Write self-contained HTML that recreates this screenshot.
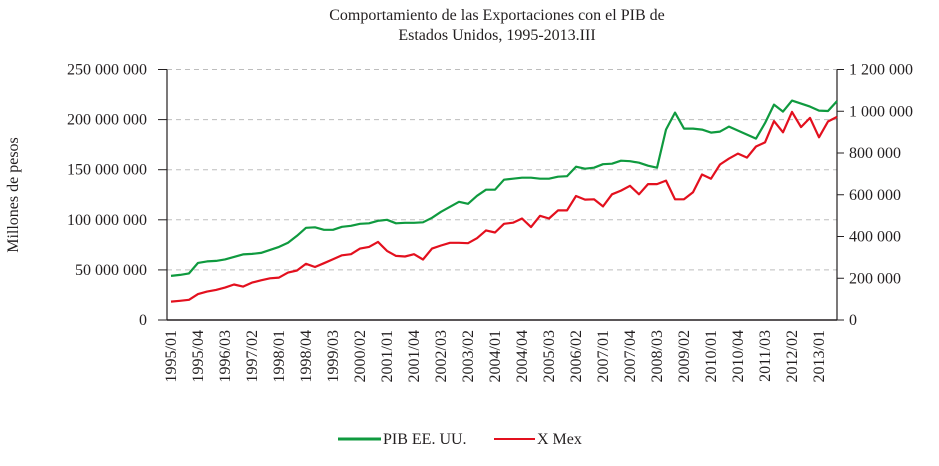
<!DOCTYPE html>
<html><head><meta charset="utf-8"><style>
body{margin:0;background:#fff;}
svg text{font-family:"Liberation Serif",serif;fill:#231f20;}
</style></head><body>
<svg id="chart" width="939" height="461" viewBox="0 0 939 461" xmlns="http://www.w3.org/2000/svg">
<text x="497" y="20" text-anchor="middle" font-size="16">Comportamiento de las Exportaciones con el PIB de</text>
<text x="497" y="40" text-anchor="middle" font-size="16">Estados Unidos, 1995-2013.III</text>
<text transform="translate(18,195) rotate(-90)" text-anchor="middle" font-size="16">Millones de pesos</text>
<g id="grid"></g><g id="axes"></g><g id="lines"></g>
<g>
<line x1="338" y1="439" x2="381" y2="439" stroke="#0f9a3f" stroke-width="3"/>
<text x="383" y="444" font-size="16">PIB EE. UU.</text>
<line x1="494" y1="439" x2="535" y2="439" stroke="#e3101e" stroke-width="2"/>
<text x="537" y="444" font-size="16">X Mex</text>
</g>
</svg>
<script>
const tickLabels=["1995/01","1995/04","1996/03","1997/02","1998/01","1998/04","1999/03","2000/02","2001/01","2001/04","2002/03","2003/02","2004/01","2004/04","2005/03","2006/02","2007/01","2007/04","2008/03","2009/02","2010/01","2010/04","2011/03","2012/02","2013/01"];
const pibValues=[44,45,46.5,57,58.5,59,60.5,63,65.5,66,67,70,73,77,84,92,92.5,90,90,93,94,96,96.5,99,100,96.5,97,97,97.5,102,108,113,118,116,124,130,130,140,141,142,142,141,141,143,143.5,153,151,152,155.5,156,159,158.5,157,154,152,190,207,191,191,190,187,188,193,189,185,181,196.5,215,208,219,216,213,209,208.6,218.5];
const xmexValues=[88,92,97,124,136,144,155,170,160,179,190,200,203,227,237,269,254,272,291,310,315,342,350,374,331,307,304,315,290,342,357,370,370,368,392,429,419,461,466,486,445,499,486,525,525,594,577,578,544,602,620,643,602,651,651,668,578,578,612,697,677,745,773,797,778,831,851,953,899,997,924,968,875,951,973];
const leftTicks=[0,50,100,150,200,250];
const rightTicks=[0,200,400,600,800,1000,1200];

const NS="http://www.w3.org/2000/svg";
const X0=167,X1=837,Y0=320,Y1=69.5;
function xPos(i){return 171+9*i;}
function yLeft(v){return Y0-(v/250)*(Y0-Y1);}
function yRight(v){return Y0-(v/1200)*(Y0-Y1);}
function mk(tag,attrs,parent,txt){const e=document.createElementNS(NS,tag);for(const k in attrs)e.setAttribute(k,attrs[k]);if(txt!==undefined)e.textContent=txt;parent.appendChild(e);return e;}
function fmt(n){return String(n).replace(/\B(?=(\d{3})+(?!\d))/g," ");}
const grid=document.getElementById('grid'),axes=document.getElementById('axes'),lines=document.getElementById('lines');
leftTicks.forEach(v=>{const y=yLeft(v);
 if(v>0){const g=mk('line',{x1:X0,x2:X1,y1:y,y2:y,stroke:'#bdbdbd','stroke-dasharray':'5,4','stroke-width':1},grid);
 
 }
 const t=mk('line',{x1:X0-9,x2:X0,y1:y,y2:y,stroke:'#231f20','stroke-width':1},axes);
 
 
 const l=mk('text',{x:147,y:y+5,'text-anchor':'end','font-size':16},axes,fmt(v*1000000));
 
 
});
rightTicks.forEach(v=>{const y=yRight(v);
 const t=mk('line',{x1:X1,x2:X1+7,y1:y,y2:y,stroke:'#231f20','stroke-width':1},axes);
 
 
 const l=mk('text',{x:849,y:y+5,'font-size':16},axes,fmt(v*1000));
 
 
});
let a=mk('line',{x1:X0,x2:X0,y1:Y1,y2:Y0,stroke:'#231f20','stroke-width':1.2},axes);


a=mk('line',{x1:X1,x2:X1,y1:Y1,y2:Y0,stroke:'#231f20','stroke-width':1.2},axes);


a=mk('line',{x1:X0,x2:X1,y1:Y0,y2:Y0,stroke:'#231f20','stroke-width':1.5},axes);


tickLabels.forEach((s,k)=>{const x=xPos(k*3)-1;
 const l=mk('text',{transform:`translate(${x+6},330) rotate(-90)`,'text-anchor':'end','font-size':16},axes,s);
 
 
});
const pg=mk('polyline',{points:pibValues.map((v,i)=>xPos(i)+','+yLeft(v).toFixed(1)).join(' '),fill:'none',stroke:'#0f9a3f','stroke-width':2.2,'stroke-linejoin':'round'},lines);


const pr=mk('polyline',{points:xmexValues.map((v,i)=>xPos(i)+','+yRight(v).toFixed(1)).join(' '),fill:'none',stroke:'#e3101e','stroke-width':2.2,'stroke-linejoin':'round'},lines);


</script>
</body></html>
